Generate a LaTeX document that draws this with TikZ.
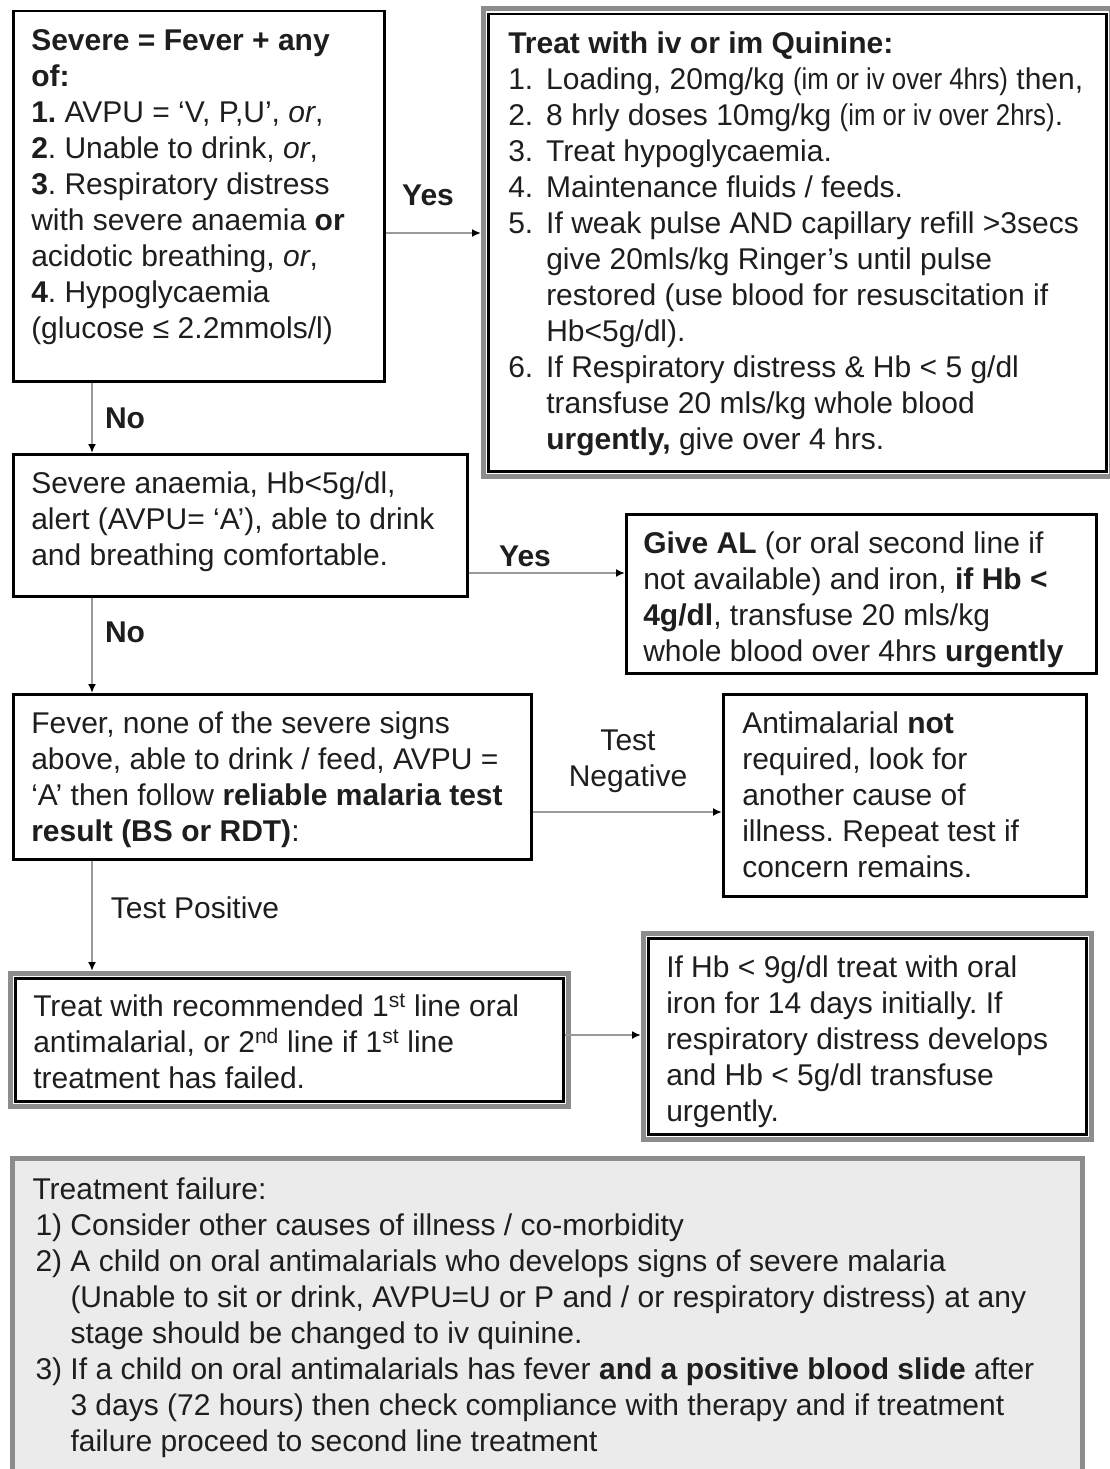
\documentclass[tikz,border=0pt]{standalone}
\usepackage{fontspec}
\setmainfont{Liberation Sans}
\newfontfamily\narrowfont[FakeStretch=0.86]{Liberation Sans}
\usetikzlibrary{arrows.meta,calc}
\definecolor{ink}{HTML}{1E1E1E}
\definecolor{framegray}{HTML}{8C8C8C}
\definecolor{linegray}{HTML}{9A9A9A}
\definecolor{panelgray}{HTML}{EBEBEB}
\newcommand{\bodyfont}{\fontsize{30}{36}\selectfont}
\newcommand{\qitem}[2]{\par\hangindent=38pt\hangafter=1\noindent\makebox[38pt][l]{#1}#2\par}
\newcommand{\pbox}[3]{\parbox[t][#1][t]{#2}{\frenchspacing\parskip=0pt #3}}
\begin{document}
\begin{tikzpicture}[x=1pt,y=-1pt,
  box/.style={draw=black, line width=2.5pt, fill=white, inner sep=0pt, anchor=north west, text=ink, font=\bodyfont},
  frame/.style={draw=framegray, line width=5pt},
  arr/.style={draw=linegray, line width=2.5pt, -{Latex[length=9pt,width=8pt,color=black]}},
  lbl/.style={text=ink, font=\bodyfont, inner sep=0pt, align=center}]
\useasboundingbox (0,0) rectangle (1110,1469);
\fill[white] (0,0) rectangle (1110,1469);

% Box A
\node[box, inner xsep=18pt, inner ysep=18pt] (A) at (12,10) {\pbox{334pt}{335pt}{%
\textbf{Severe = Fever + any}\\
\textbf{of:}\\
\textbf{1.} AVPU = ‘V, P,U’, \emph{or},\\
\textbf{2}. Unable to drink, \emph{or},\\
\textbf{3}. Respiratory distress\\
with severe anaemia \textbf{or}\\
acidotic breathing, \emph{or},\\
\textbf{4}. Hypoglycaemia\\
(glucose ≤ 2.2mmols/l)}};

% Box B
\node[box, inner xsep=20pt, inner ysep=17.5pt] (B) at (487,13) {\pbox{422pt}{578pt}{%
\noindent\textbf{Treat with iv or im Quinine:}\par
\qitem{1.}{Loading, 20mg/kg {\narrowfont (im or iv over 4hrs)} then,}
\qitem{2.}{8 hrly doses 10mg/kg {\narrowfont (im or iv over 2hrs)}.}
\qitem{3.}{Treat hypoglycaemia.}
\qitem{4.}{Maintenance fluids / feeds.}
\qitem{5.}{If weak pulse AND capillary refill >3secs\newline give 20mls/kg Ringer’s until pulse\newline restored (use blood for resuscitation if\newline Hb<5g/dl).}
\qitem{6.}{If Respiratory distress \& Hb < 5 g/dl\newline transfuse 20 mls/kg whole blood\newline \textbf{urgently,} give over 4 hrs.}}};
\draw[frame] ($(B.north west)+(-4,-4)$) rectangle ($(B.south east)+(4,4)$);

% Box C
\node[box, inner xsep=18pt, inner ysep=18pt] (C) at (12,453) {\pbox{106pt}{418pt}{%
Severe anaemia, Hb<5g/dl,\\
alert (AVPU= ‘A’), able to drink\\
and breathing comfortable.}};

% Box D
\node[box, inner xsep=17pt, inner ysep=17.5pt] (D) at (625,513) {\pbox{124pt}{436pt}{%
\textbf{Give AL} (or oral second line if\\
not available) and iron, \textbf{if Hb <}\\
\textbf{4g/dl}, transfuse 20 mls/kg\\
whole blood over 4hrs \textbf{urgently}}};

% Box E
\node[box, inner xsep=18pt, inner ysep=17.5pt] (E) at (12,693) {\pbox{130pt}{482pt}{%
Fever, none of the severe signs\\
above, able to drink / feed, AVPU =\\
‘A’ then follow \textbf{reliable malaria test}\\
\textbf{result (BS or RDT)}:}};

% Box F
\node[box, inner xsep=19pt, inner ysep=17.5pt] (F) at (722,693) {\pbox{167pt}{325pt}{%
Antimalarial \textbf{not}\\
required, look for\\
another cause of\\
illness. Repeat test if\\
concern remains.}};

% Box G
\node[box, inner xsep=18pt, inner ysep=15.5pt] (G) at (14,977) {\pbox{92pt}{512pt}{%
Treat with recommended 1\textsuperscript{st} line oral\\
antimalarial, or 2\textsuperscript{nd} line if 1\textsuperscript{st} line\\
treatment has failed.}};
\draw[frame] ($(G.north west)+(-4,-4)$) rectangle ($(G.south east)+(4,4)$);

% Box H
\node[box, inner xsep=18pt, inner ysep=17.5pt] (H) at (647,937) {\pbox{161pt}{402pt}{%
If Hb < 9g/dl treat with oral\\
iron for 14 days initially. If\\
respiratory distress develops\\
and Hb < 5g/dl transfuse\\
urgently.}};
\draw[frame] ($(H.north west)+(-4,-4)$) rectangle ($(H.south east)+(4,4)$);

% Box I
\node[box, draw=framegray, line width=5pt, fill=panelgray, inner xsep=20pt, inner ysep=19.5pt] (I) at (10,1156) {\pbox{290pt}{1030pt}{%
\noindent Treatment failure:\par
\qitem{\hspace*{3pt}1)}{Consider other causes of illness / co-morbidity}
\qitem{\hspace*{3pt}2)}{A child on oral antimalarials who develops signs of severe malaria\newline (Unable to sit or drink, AVPU=U or P and / or respiratory distress) at any\newline stage should be changed to iv quinine.}
\qitem{\hspace*{3pt}3)}{If a child on oral antimalarials has fever \textbf{and a positive blood slide} after\newline 3 days (72 hours) then check compliance with therapy and if treatment\newline failure proceed to second line treatment}}};

% Connectors
\draw[arr, shorten >=6pt] (A.east |- 0,233) -- (B.west |- 0,233);
\draw[arr] (A.south -| 92,0) -- (C.north -| 92,0);
\draw[arr] (C.east |- 0,573) -- (D.west |- 0,573);
\draw[arr] (C.south -| 92,0) -- (E.north -| 92,0);
\draw[arr] (E.east |- 0,812) -- (F.west |- 0,812);
\draw[arr, shorten >=6pt] (E.south -| 92,0) -- (G.north -| 92,0);
\draw[arr, shorten >=6pt] (G.east |- 0,1035) -- (H.west |- 0,1035);

% Labels
\node[lbl, font=\bodyfont\bfseries] (yes1) at (428,195) {Yes};
\node[lbl, font=\bodyfont\bfseries] (no1) at (125,418) {No};
\node[lbl, font=\bodyfont\bfseries] (yes2) at (525,556) {Yes};
\node[lbl, font=\bodyfont\bfseries] (no2) at (125,632) {No};
\node[lbl] (neg) at (628,761) {Test\\Negative};
\node[lbl] (pos) at (195,908) {Test Positive};
\end{tikzpicture}
\end{document}
